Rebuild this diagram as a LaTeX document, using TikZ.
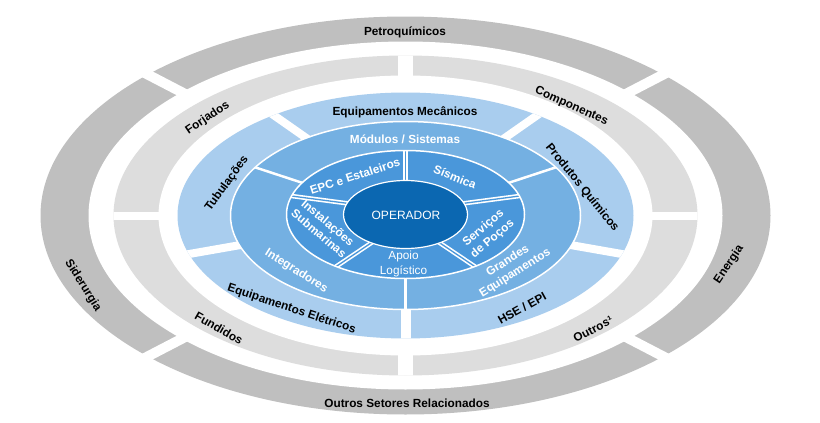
\documentclass[tikz,border=0pt]{standalone}
\usepackage{fontspec}
\setmainfont{Liberation Sans}
\usetikzlibrary{calc}
\definecolor{ringdark}{HTML}{BFBFBF}
\definecolor{ringlight}{HTML}{DDDDDD}
\definecolor{blueA}{HTML}{A9CDEE}
\definecolor{blueB}{HTML}{74B0E2}
\definecolor{blueC}{HTML}{4A97DA}
\definecolor{blueD}{HTML}{0B67B1}
\begin{document}
\begin{tikzpicture}[x=1pt,y=-1pt,
  lbl/.style={font=\fontsize{11.8}{14}\selectfont\bfseries, text=black, inner sep=0pt, text height=8.5pt, text depth=0pt},
  wlbl/.style={lbl, text=white},
  mlbl/.style={font=\fontsize{11.8}{14}\selectfont\bfseries, text=white, inner sep=0pt, align=center},
  rlbl/.style={font=\fontsize{11.8}{15}\selectfont, text=white, inner sep=0pt, align=center},
  gapline/.style={white, line width=#1},
  dblgap/.style={white, line width=4.5pt},
  dblcore/.style={blueC, line width=1.3pt},
]
\useasboundingbox (0,0) rectangle (820,423);
\coordinate (C) at (405.5,215.5);

% ---- outer dark ring
\fill[ringdark] (C) ellipse [x radius=365pt, y radius=199pt];
\draw[gapline=10pt] (139,70) -- (190,96.5);
\draw[gapline=10pt] (672,70) -- (621,96.5);
\draw[gapline=10pt] (139,361) -- (190,334.5);
\draw[gapline=10pt] (672,361) -- (621,334.5);
\fill[white] (C) ellipse [x radius=317pt, y radius=174pt];

% ---- light gray ring
\fill[ringlight] (C) ellipse [x radius=292pt, y radius=160pt];
\begin{scope}
  \clip (C) ellipse [x radius=292pt, y radius=160pt];
  \draw[gapline=15pt] (405.5,40) -- (405.5,95);
  \draw[gapline=15pt] (405.5,335) -- (405.5,392);
  \draw[gapline=8pt] (100,216) -- (175,216);
  \draw[gapline=8pt] (636,216) -- (711,216);
\end{scope}
\fill[white] (C) ellipse [x radius=247pt, y radius=140pt];

% ---- light blue ring
\fill[blueA] (C) ellipse [x radius=228pt, y radius=123pt];
\begin{scope}
  \clip (C) ellipse [x radius=228pt, y radius=123pt];
  \draw[gapline=8pt] (262,107) -- (312,142);
  \draw[gapline=8pt] (549,107) -- (499,142);
  \draw[gapline=8pt] (172,257) -- (252,243);
  \draw[gapline=8pt] (639,257) -- (559,243);
  \draw[gapline=10pt] (405.5,290) -- (405.5,345);
\end{scope}

% ---- middle blue ring
\fill[blueB] (C) ellipse [x radius=175pt, y radius=94pt];
\begin{scope}
  \clip (C) ellipse [x radius=175pt, y radius=94pt];
  \draw[gapline=2.5pt] (245,164) -- (315,187);
  \draw[gapline=2.5pt] (566,164) -- (496,187);
  \draw[gapline=3pt] (405.5,265) -- (405.5,315);
\end{scope}
\draw[white, line width=1.5pt] (C) ellipse [x radius=175pt, y radius=94pt];

% ---- inner blue ring
\fill[blueC] (405.5,214.5) ellipse [x radius=119pt, y radius=64pt];
\begin{scope}
  \clip (405.5,214.5) ellipse [x radius=119pt, y radius=64pt];
  \foreach \a/\b in {{(405.5,140)}/{(405.5,200)}, {(280,194.5)}/{(360,205)}, {(531,194.5)}/{(451,205)}, {(325,274)}/{(380,237)}, {(486,274)}/{(431,237)}}{
    \draw[dblgap] \a -- \b;
    \draw[dblcore] \a -- \b;
  }
\end{scope}
\draw[white, line width=1.5pt] (405.5,214.5) ellipse [x radius=119pt, y radius=64pt];

% ---- operator
\fill[blueD] (405.5,214.5) ellipse [x radius=62pt, y radius=34pt];
\draw[white, line width=1.2pt] (405.5,214.5) ellipse [x radius=62pt, y radius=34pt];

% ---- labels: outer ring
\node[lbl] (petro) at (405,31) {Petroquímicos};
\node[lbl] (outset) at (407,403) {Outros Setores Relacionados};
\node[lbl, rotate=-58] (sider) at (84,285) {Siderurgia};
\node[lbl, rotate=56] (energ) at (728,264) {Energia};
% ---- light gray ring
\node[lbl, rotate=34] (forj) at (207,117) {Forjados};
\node[lbl, rotate=-24] (comp) at (572,105) {Componentes};
\node[lbl, rotate=-30] (fund) at (219,328) {Fundidos};
\node[lbl, rotate=27] (outr) at (593,329) {Outros¹};
% ---- light blue ring
\node[lbl] (eqmec) at (405,111) {Equipamentos Mecânicos};
\node[lbl, rotate=54] (tubul) at (226,183) {Tubulações};
\node[lbl, rotate=-51] (prodq) at (583,187) {Produtos Químicos};
\node[lbl, rotate=-18.5] (eqele) at (292,308) {Equipamentos Elétricos};
\node[lbl, rotate=29] (hse) at (522,308) {HSE / EPI};
% ---- middle blue ring
\node[wlbl] (modul) at (405,139) {Módulos / Sistemas};
\node[wlbl, rotate=-32] (integ) at (297,270) {Integradores};
\node[mlbl, rotate=32] (grand) at (511.5,267) {Grandes\\Equipamentos};
% ---- inner blue ring
\node[wlbl, rotate=18] (epc) at (355,176) {EPC e Estaleiros};
\node[wlbl, rotate=-22] (sism) at (455,177) {Sísmica};
\node[mlbl, rotate=-40] (inst) at (323.5,228) {Instalações\\Submarinas};
\node[mlbl, rotate=40] (serv) at (488,233.5) {Serviços\\de Poços};
\node[rlbl] (apoio) at (403.5,264) {Apoio\\Logístico};
% ---- centre
\node[font=\fontsize{12}{14}\selectfont, text=white, inner sep=0pt, text height=8.6pt, text depth=0pt] (oper) at (406,215) {OPERADOR};
\end{tikzpicture}
\end{document}
